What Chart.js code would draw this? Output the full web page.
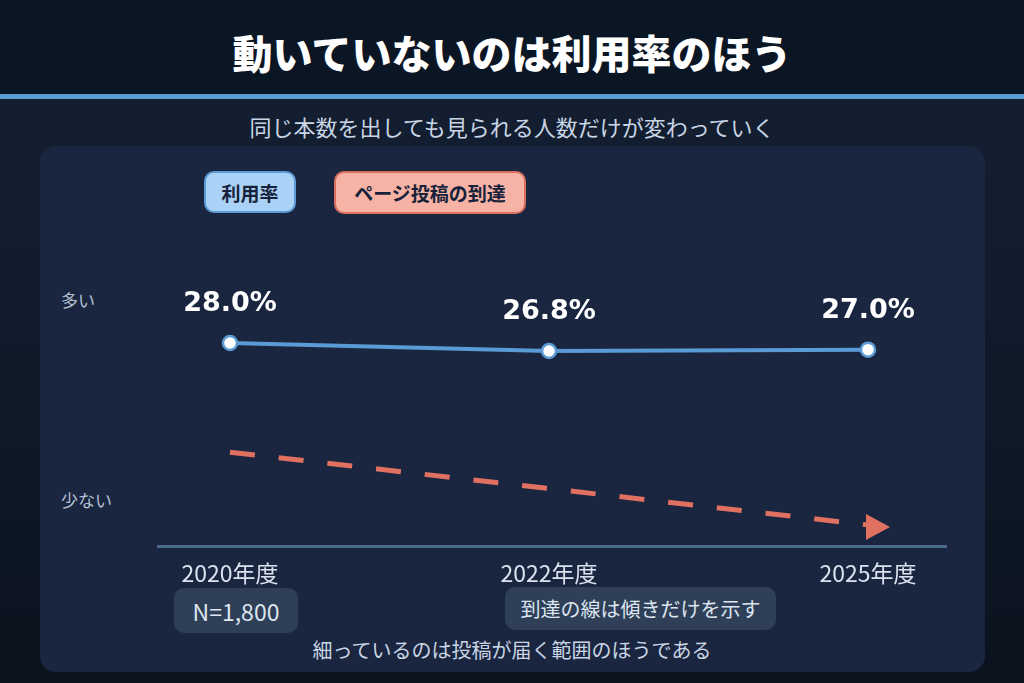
<!DOCTYPE html>
<html lang="ja">
<head>
<meta charset="utf-8">
<title>動いていないのは利用率のほう</title>
<script src="https://cdn.jsdelivr.net/npm/chart.js@4"></script>
<style>
  html, body {
    margin: 0;
    padding: 0;
  }
  body {
    width: 1024px;
    height: 683px;
    overflow: hidden;
    font-family: "Noto Sans CJK JP", "Noto Sans", sans-serif;
    background: linear-gradient(180deg, #142134 0%, #0f1928 60%, #0a121d 100%);
    position: relative;
  }
  .abs { position: absolute; }
  #header {
    left: 0; top: 0; width: 1024px; height: 94px;
    background: #0b1624;
  }
  #band {
    left: 0; top: 94px; width: 1024px; height: 5px;
    background: #5b9bd5;
  }
  #title {
    left: 0; top: 0; width: 1024px; height: 104px; line-height: 104px;
    text-align: center; color: #ffffff;
    font-size: 40px; font-weight: 900;
  }
  #subtitle {
    left: 0; top: 106px; width: 1024px; height: 40px; line-height: 40px;
    text-align: center; color: #c9d5e5; font-size: 22px;
  }
  #panel {
    left: 40px; top: 146px; width: 945px; height: 526px;
    border-radius: 16px; background: #1a2640;
  }
  .pill {
    box-sizing: border-box;
    display: flex; align-items: center; justify-content: center;
    border-radius: 10px;
  }
  #legendRate {
    left: 204px; top: 171px; width: 92px; height: 42px;
    background: #a9d2f6; border: 2px solid #5b9bd5;
    color: #17223a; font-size: 19px; font-weight: 700;
  }
  #legendReach {
    left: 334px; top: 171px; width: 192px; height: 43px;
    background: #f6b2a5; border: 2px solid #d9705f;
    color: #17223a; font-size: 19px; font-weight: 700;
  }
  .ylab {
    left: 61px; height: 20px; line-height: 20px;
    color: #b3c0d3; font-size: 17px;
  }
  #noteN {
    left: 174px; top: 588px; width: 124px; height: 45px;
    background: #2e3f57; color: #dce5f0; font-size: 23px;
  }
  #noteSlope {
    left: 505px; top: 587px; width: 271px; height: 43px;
    background: #2e3f57; color: #dce5f0; font-size: 20px;
  }
  #footnote {
    left: 0; top: 636px; width: 1024px; height: 28px; line-height: 28px;
    text-align: center; color: #c9d5e5; font-size: 20px;
  }
  #chartWrap {
    left: 0; top: 0; width: 1024px; height: 683px;
    pointer-events: none;
  }
</style>
</head>
<body>
<div id="header" class="abs"></div>
<div id="band" class="abs"></div>
<div id="title" class="abs">動いていないのは利用率のほう</div>
<div id="subtitle" class="abs">同じ本数を出しても見られる人数だけが変わっていく</div>
<div id="panel" class="abs"></div>
<div id="legendRate" class="abs pill">利用率</div>
<div id="legendReach" class="abs pill">ページ投稿の到達</div>
<div class="abs ylab" style="top:290px">多い</div>
<div class="abs ylab" style="top:490px">少ない</div>
<div id="noteN" class="abs pill">N=1,800</div>
<div id="noteSlope" class="abs pill">到達の線は傾きだけを示す</div>
<div id="footnote" class="abs">細っているのは投稿が届く範囲のほうである</div>
<div id="chartWrap" class="abs"><canvas id="trendChart" width="1024" height="683"></canvas></div>

<script>
// 年度（横軸）
const years = ["2020年度", "2022年度", "2025年度"];
// 利用率（%）
const usageRate = [28.0, 26.8, 27.0];
// ページ投稿の到達（傾きだけを示す指数、2020年度=100）
const reachIndex = [100, 90, 80];

const blue = "#5b9bd5";
const coral = "#e07060";

// Labels above the usage points
const valueLabels = {
  id: "valueLabels",
  afterDatasetsDraw(chart) {
    const ctx = chart.ctx;
    const meta = chart.getDatasetMeta(0);
    ctx.save();
    ctx.fillStyle = "#ffffff";
    ctx.font = "bold 27px 'DejaVu Sans', sans-serif";
    ctx.textAlign = "center";
    ctx.textBaseline = "middle";
    meta.data.forEach((pt, i) => {
      ctx.fillText(usageRate[i].toFixed(1) + "%", pt.x, pt.y - 39);
    });
    ctx.restore();
  },
};

// Arrow head at the end of the reach line
const reachArrow = {
  id: "reachArrow",
  afterDatasetsDraw(chart) {
    const ctx = chart.ctx;
    const meta = chart.getDatasetMeta(1);
    const last = meta.data[meta.data.length - 1];
    if (!last) return;
    ctx.save();
    ctx.fillStyle = coral;
    ctx.beginPath();
    ctx.moveTo(last.x - 2, last.y + 2 - 13);
    ctx.lineTo(last.x + 22, last.y + 2);
    ctx.lineTo(last.x - 2, last.y + 2 + 13);
    ctx.closePath();
    ctx.fill();
    ctx.restore();
  },
};

const ctx = document.getElementById("trendChart").getContext("2d");
const trendChart = new Chart(ctx, {
  type: "line",
  data: {
    datasets: [
      {
        label: "利用率",
        data: usageRate.map((v, i) => ({ x: i, y: v })),
        yAxisID: "y",
        borderColor: blue,
        borderWidth: 4,
        pointRadius: 7,
        pointBorderWidth: 2.5,
        pointBackgroundColor: "#ffffff",
        pointBorderColor: blue,
        tension: 0,
      },
      {
        label: "ページ投稿の到達",
        data: reachIndex.map((v, i) => ({ x: i, y: v })),
        yAxisID: "y2",
        borderColor: coral,
        borderWidth: 5,
        borderDash: [25, 24],
        pointRadius: 0,
        tension: 0,
      },
    ],
  },
  options: {
    responsive: false,
    animation: false,
    devicePixelRatio: 1,
    layout: {
      padding: { left: 158, right: 78, top: 280, bottom: 0 },
    },
    plugins: {
      legend: { display: false },
      tooltip: { enabled: false },
    },
    scales: {
      x: {
        type: "linear",
        min: -0.2257,
        max: 2.2445,
        afterBuildTicks: (scale) => {
          scale.ticks = years.map((_, i) => ({ value: i }));
        },
        afterFit: (scale) => {
          scale.height = 137;
        },
        grid: { display: false, drawTicks: false },
        border: { display: true, color: "#4c6a8e", width: 3 },
        ticks: {
          padding: 13,
          color: "#d9e3ef",
          font: { family: "'Noto Sans CJK JP', sans-serif", size: 23 },
          callback: (value) => years[value],
        },
      },
      y: {
        display: false,
        min: -2.45,
        max: 37.45,
      },
      y2: {
        display: false,
        min: 74.22,
        max: 147.3,
      },
    },
  },
  plugins: [valueLabels, reachArrow],
});
</script>
</body>
</html>
